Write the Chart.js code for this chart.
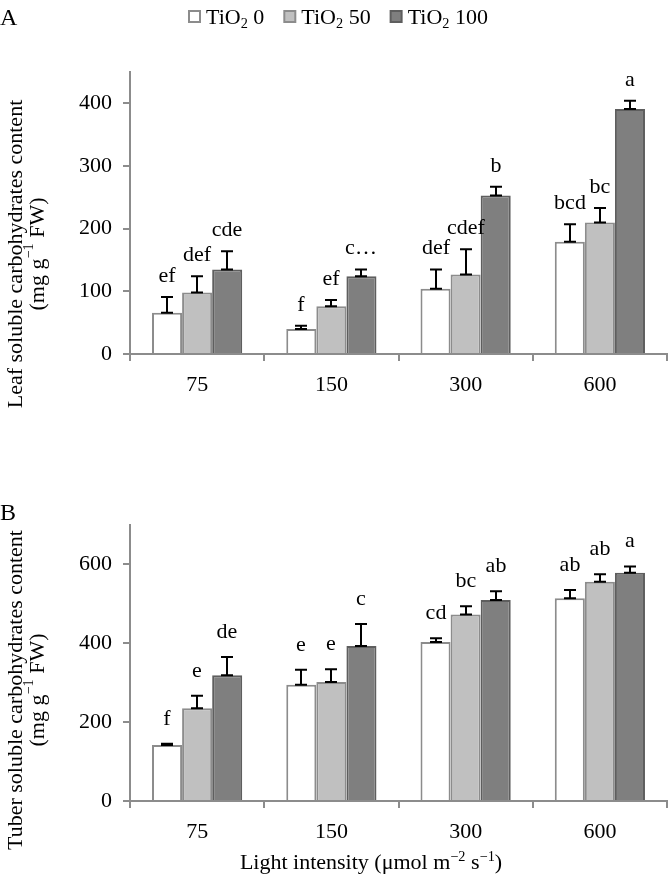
<!DOCTYPE html>
<html><head><meta charset="utf-8">
<script src="https://cdn.jsdelivr.net/npm/chart.js@4/dist/chart.umd.min.js"></script>
<style>
html,body{margin:0;padding:0;background:#fff;}
#wrap{position:relative;width:668px;height:875px;overflow:hidden;}
#ca{position:absolute;left:0;top:0;}
#cb{position:absolute;left:0;top:440px;}
</style></head><body>
<div id="wrap">
<canvas id="ca" width="668" height="440"></canvas>
<canvas id="cb" width="668" height="435"></canvas>
</div>
<script>
// ---- data ----
const categories = ["75", "150", "300", "600"];
const seriesLabels = ["TiO₂ 0", "TiO₂ 50", "TiO₂ 100"];

const leafTiO2_0   = [66, 40, 104, 179];
const leafTiO2_50  = [98, 76, 127, 210];
const leafTiO2_100 = [135, 124, 253, 391];
const leafErr_0    = [25, 5, 31, 28];
const leafErr_50   = [26, 10, 40, 23];
const leafErr_100  = [29, 11, 14, 13];
const leafLetters_0   = ["ef", "f", "def", "bcd"];
const leafLetters_50  = ["def", "ef", "cdef", "bc"];
const leafLetters_100 = ["cde", "c…", "b", "a"];
const leafTicks = [0, 100, 200, 300, 400];

const tuberTiO2_0   = [142, 295, 403, 514];
const tuberTiO2_50  = [235, 302, 473, 556];
const tuberTiO2_100 = [319, 393, 510, 579];
const tuberErr_0    = [3, 38, 10, 21];
const tuberErr_50   = [32, 32, 21, 19];
const tuberErr_100  = [46, 56, 22, 16];
const tuberLetters_0   = ["f", "e", "cd", "ab"];
const tuberLetters_50  = ["e", "e", "bc", "ab"];
const tuberLetters_100 = ["de", "c", "ab", "a"];
const tuberTicks = [0, 200, 400, 600];

// ---- styles ----
const FONT = '"Liberation Serif", "Times New Roman", serif';
const FS = 22;
const fills = ["#ffffff", "#c0c0c0", "#7f7f7f"];
const borders = ["#8c8c8c", "#8c8c8c", "#5e5e5e"];
const AXIS = "#8c8c8c";

function drawRich(ctx, parts, cx, y, size, align) {
  let total = 0;
  const widths = parts.map(p => {
    const s = (p.sup || p.sub) ? size * 0.65 : size;
    ctx.font = s + "px " + FONT;
    const w = ctx.measureText(p.t).width;
    total += w; return w;
  });
  let x = align === "left" ? cx : cx - total / 2;
  ctx.textAlign = "left";
  parts.forEach((p, i) => {
    const s = (p.sup || p.sub) ? size * 0.65 : size;
    ctx.font = s + "px " + FONT;
    let dy = 0;
    if (p.sup) dy = -size * 0.38;
    if (p.sub) dy = size * 0.2;
    ctx.fillText(p.t, x, y + dy);
    x += widths[i];
  });
  return total;
}

function splitSub(label) {
  const k = label.indexOf("₂");
  if (k < 0) return [{t: label}];
  return [{t: label.slice(0, k)}, {t: "2", sub: true}, {t: label.slice(k + 1)}];
}

function makeChart(canvasId, values, errs, letters, ticks, max, opts) {
  const datasets = values.map((v, i) => ({
    label: seriesLabels[i],
    data: v,
    errors: errs[i],
    letters: letters[i],
    backgroundColor: fills[i],
    borderColor: borders[i],
    borderWidth: 2,
    barPercentage: 1.0,
    categoryPercentage: 0.672
  }));

  const custom = {
    id: "custom_" + canvasId,
    afterDatasetsDraw(chart) {
      const ctx = chart.ctx;
      const ys = chart.scales.y;
      ctx.save();
      ctx.strokeStyle = "#000";
      ctx.lineWidth = 2;
      ctx.fillStyle = "#000";
      chart.data.datasets.forEach((ds, i) => {
        const meta = chart.getDatasetMeta(i);
        meta.data.forEach((bar, j) => {
          const v = ds.data[j], e = ds.errors[j];
          const y0 = ys.getPixelForValue(v), y1 = ys.getPixelForValue(v + e);
          const x = Math.round(bar.x);
          ctx.beginPath();
          ctx.moveTo(x, y0); ctx.lineTo(x, y1);
          ctx.moveTo(x - 6, y1); ctx.lineTo(x + 6, y1);
          ctx.moveTo(x - 6, y0); ctx.lineTo(x + 6, y0);
          ctx.stroke();
          ctx.font = FS + "px " + FONT;
          ctx.textAlign = "center";
          ctx.textBaseline = "alphabetic";
          ctx.fillText(ds.letters[j], x, y1 - opts.letterGap);
        });
      });
      ctx.restore();
    },
    afterDraw(chart) {
      const ctx = chart.ctx;
      const ca = chart.chartArea;
      ctx.save();
      ctx.fillStyle = "#000";
      ctx.textBaseline = "alphabetic";
      // panel letter
      ctx.font = "24px " + FONT;
      ctx.textAlign = "left";
      ctx.fillText(opts.panel, 0, opts.panelY);
      // y title
      ctx.save();
      const cy = (ca.top + ca.bottom) / 2 + opts.titleShift;
      ctx.translate(16, cy);
      ctx.rotate(-Math.PI / 2);
      ctx.textBaseline = "middle";
      ctx.font = FS + "px " + FONT;
      ctx.textAlign = "center";
      ctx.fillText(opts.yTitle, 0, 0);
      ctx.translate(0, 22);
      drawRich(ctx, [{t: "(mg g"}, {t: "−1", sup: true}, {t: " FW)"}], 0, 0, FS);
      ctx.restore();
      // legend
      if (opts.legend) {
        let x = 189;
        const yc = 16;
        chart.data.datasets.forEach((ds, i) => {
          ctx.fillStyle = ds.backgroundColor;
          ctx.fillRect(x, yc - 5, 11, 11);
          ctx.strokeStyle = ds.borderColor;
          ctx.lineWidth = 2;
          ctx.strokeRect(x, yc - 5, 11, 11);
          ctx.fillStyle = "#000";
          ctx.textBaseline = "alphabetic";
          const w = drawRich(ctx, splitSub(ds.label), x + 17, 24, FS, "left");
          x += 17 + w + 20;
        });
      }
      // x title
      if (opts.xTitle) {
        ctx.fillStyle = "#000";
        ctx.textBaseline = "alphabetic";
        drawRich(ctx, [{t: "Light intensity (μmol m"}, {t: "−2", sup: true}, {t: " s"}, {t: "−1", sup: true}, {t: ")"}], 371, ca.bottom + 68, FS);
      }
      ctx.restore();
    }
  };

  return new Chart(document.getElementById(canvasId), {
    type: "bar",
    data: { labels: categories, datasets },
    options: {
      responsive: false,
      animation: false,
      events: [],
      layout: { padding: { top: opts.top, right: 1, left: 0, bottom: 0 } },
      plugins: { legend: { display: false }, tooltip: { enabled: false } },
      scales: {
        x: {
          offset: true,
          grid: { display: true, drawOnChartArea: false, drawTicks: true, tickLength: 7, offset: true, color: AXIS, lineWidth: 2 },
          border: { display: true, color: AXIS, width: 2 },
          ticks: { color: "#000", font: { family: FONT, size: FS }, padding: 11 },
          afterFit(scale) { scale.height = opts.xHeight; }
        },
        y: {
          min: 0, max: max,
          afterBuildTicks(scale) { scale.ticks = ticks.map(v => ({ value: v })); },
          grid: { display: true, drawOnChartArea: false, drawTicks: true, tickLength: 7, color: AXIS, lineWidth: 2 },
          border: { display: true, color: AXIS, width: 2 },
          ticks: { color: "#000", font: { family: FONT, size: FS }, padding: 11 },
          afterFit(scale) { scale.width = 130; }
        }
      }
    },
    plugins: [custom]
  });
}

makeChart("ca",
  [leafTiO2_0, leafTiO2_50, leafTiO2_100],
  [leafErr_0, leafErr_50, leafErr_100],
  [leafLetters_0, leafLetters_50, leafLetters_100],
  leafTicks, 450,
  { top: 72, xHeight: 86, panel: "A", panelY: 25, yTitle: "Leaf soluble carbohydrates content", titleShift: 41, legend: true, xTitle: false, letterGap: 15 });

makeChart("cb",
  [tuberTiO2_0, tuberTiO2_50, tuberTiO2_100],
  [tuberErr_0, tuberErr_50, tuberErr_100],
  [tuberLetters_0, tuberLetters_50, tuberLetters_100],
  tuberTicks, 700,
  { top: 85, xHeight: 74, panel: "B", panelY: 80, yTitle: "Tuber soluble carbohydrates content", titleShift: 27, legend: false, xTitle: true, letterGap: 19 });
</script>
</body></html>
